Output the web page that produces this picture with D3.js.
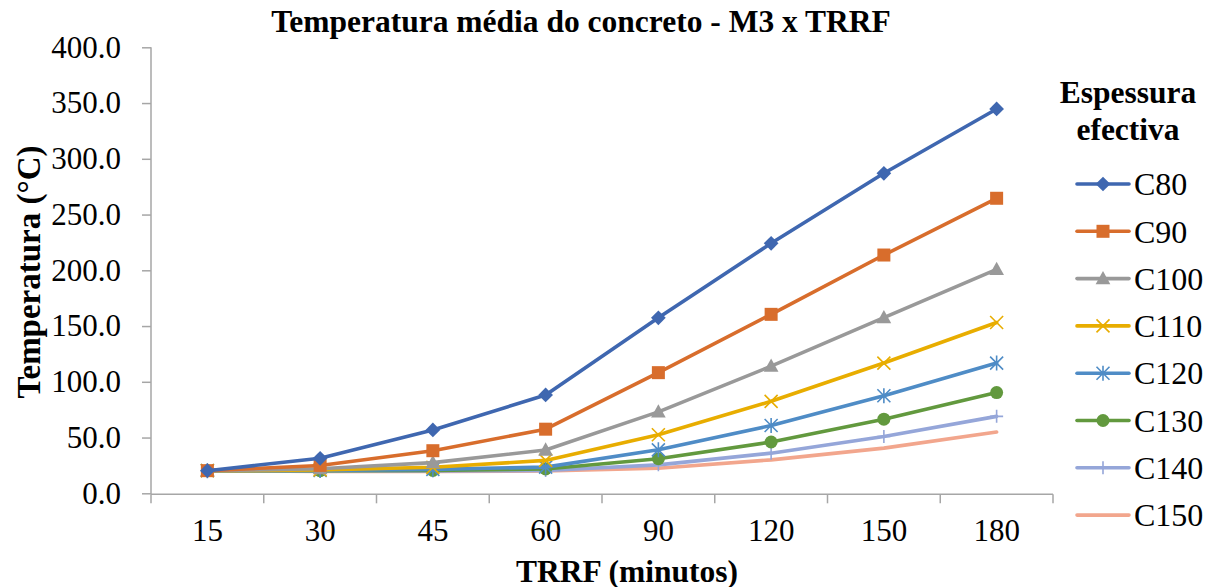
<!DOCTYPE html>
<html>
<head>
<meta charset="utf-8">
<script src="https://cdn.jsdelivr.net/npm/d3@7"></script>
<style>
  html, body { margin: 0; padding: 0; background: #fff; }
  svg, svg text { font-family: "Liberation Serif", "Times New Roman", serif !important; }
  svg { display: block; }
</style>
</head>
<body>
<svg id="chart" width="1214" height="587"></svg>
<script>
// Mean concrete temperature for each effective thickness over fire time
const categories = ["15", "30", "45", "60", "90", "120", "150", "180"];
const seriesNames = ["C80", "C90", "C100", "C110", "C120", "C130", "C140", "C150"];
const c80  = [20.3, 31.4, 56.8, 88.2, 157.4, 224.2, 287.0, 344.7];
const c90  = [20.3, 25.0, 38.2, 57.5, 108.2, 160.5, 213.7, 264.6];
const c100 = [20.3, 22.0, 27.5, 38.8, 73.0, 114.0, 157.5, 200.8];
const c110 = [20.3, 21.0, 23.3, 29.5, 52.5, 82.5, 116.8, 153.2];
const c120 = [20.3, 20.5, 21.5, 23.5, 39.0, 60.8, 87.5, 116.8];
const c130 = [20.3, 20.2, 20.5, 21.8, 31.0, 46.0, 66.5, 90.3];
const c140 = [20.3, 20.0, 20.0, 20.5, 25.5, 36.0, 51.0, 69.0];
const c150 = [20.3, 19.5, 19.5, 20.0, 22.5, 30.0, 40.5, 55.0];
const yTicks = [0, 50, 100, 150, 200, 250, 300, 350, 400];

const seriesValues = [c80, c90, c100, c110, c120, c130, c140, c150];
const colors = ["#3f67b0", "#d86d2c", "#999999", "#e8ad00", "#4f8cc6", "#62993e", "#95a6d9", "#f2a68d"];
const markers = ["diamond", "square", "triangle", "x", "asterisk", "circle", "plus", "none"];

const svg = d3.select("#chart");
const plotLeft = 151, plotRight = 1053, plotTop = 47.3, plotBottom = 493.3;
const fsTick = 31, fsBold = 31.5;

const x = d3.scaleBand().domain(categories).range([plotLeft, plotRight]);
const y = d3.scaleLinear().domain([0, 400]).range([plotBottom, plotTop]);

// Title
svg.append("text")
  .attr("x", 581).attr("y", 32)
  .attr("text-anchor", "middle")
  .attr("font-weight", "bold").attr("font-size", fsBold)
  .text("Temperatura média do concreto - M3 x TRRF");

// Y axis
const yAxis = d3.axisLeft(y).tickValues(yTicks).tickSize(9).tickFormat(d3.format(".1f"));
const gy = svg.append("g").attr("transform", `translate(${plotLeft},0)`).call(yAxis);
gy.select(".domain").attr("stroke", "#a6a6a6").attr("stroke-width", 1.5).attr("d", `M0,${plotTop}V${plotBottom + 0.7}`);
gy.selectAll(".tick line").attr("stroke", "#a6a6a6").attr("stroke-width", 1.5);
gy.selectAll(".tick text").attr("font-size", fsTick).attr("fill", "#000").attr("x", -30);

// X axis
const xAxis = d3.axisBottom(x).tickSize(0);
const gx = svg.append("g").attr("transform", `translate(0,${plotBottom + 1})`).call(xAxis);
gx.select(".domain").attr("stroke", "#a6a6a6").attr("stroke-width", 1.5).attr("d", `M${plotLeft},0H${plotRight}`);
gx.selectAll(".tick text").attr("font-size", fsTick).attr("fill", "#000").attr("y", 47).attr("dy", 0);
// category boundary tick marks
const bounds = categories.map(c => x(c)).concat([x(categories[categories.length - 1]) + x.bandwidth()]);
gx.selectAll("line.bound").data(bounds).enter().append("line")
  .attr("class", "bound")
  .attr("x1", d => d).attr("x2", d => d).attr("y1", 0).attr("y2", 9)
  .attr("stroke", "#a6a6a6").attr("stroke-width", 1.5);

// Axis titles
svg.append("text")
  .attr("x", 627).attr("y", 581.5)
  .attr("text-anchor", "middle")
  .attr("font-weight", "bold").attr("font-size", fsBold)
  .text("TRRF (minutos)");
svg.append("text")
  .attr("transform", "translate(40,272) rotate(-90)")
  .attr("text-anchor", "middle")
  .attr("font-weight", "bold").attr("font-size", 33)
  .text("Temperatura (°C)");

// Marker drawing
function drawMarker(g, type, color, s) {
  const r = s / 2;
  if (type === "diamond") {
    g.append("path").attr("d", `M0,${-r * 1.05}L${r * 1.05},0L0,${r * 1.05}L${-r * 1.05},0Z`).attr("fill", color);
  } else if (type === "square") {
    g.append("rect").attr("x", -r).attr("y", -r).attr("width", s).attr("height", s).attr("fill", color);
  } else if (type === "triangle") {
    g.append("path").attr("d", `M0,${-r * 1.1}L${r * 1.05},${r * 0.8}L${-r * 1.05},${r * 0.8}Z`).attr("fill", color);
  } else if (type === "x") {
    g.append("path").attr("d", `M${-r},${-r}L${r},${r}M${-r},${r}L${r},${-r}`)
      .attr("stroke", color).attr("stroke-width", 1.6).attr("fill", "none");
  } else if (type === "asterisk") {
    g.append("path").attr("d", `M${-r},${-r}L${r},${r}M${-r},${r}L${r},${-r}M0,${-r * 1.15}V${r * 1.15}`)
      .attr("stroke", color).attr("stroke-width", 1.6).attr("fill", "none");
  } else if (type === "circle") {
    g.append("circle").attr("r", r).attr("fill", color);
  } else if (type === "plus") {
    g.append("path").attr("d", `M${-r},0H${r}M0,${-r}V${r}`)
      .attr("stroke", color).attr("stroke-width", 1.6).attr("fill", "none");
  }
}
const markerSize = [14, 13, 14, 13, 13, 13, 13, 0];

// Lines and markers (draw last series first so C80 sits on top)
const line = d3.line()
  .x((d, i) => x(categories[i]) + x.bandwidth() / 2)
  .y(d => y(d));

const plot = svg.append("g");
for (let k = seriesValues.length - 1; k >= 0; k--) {
  const vals = seriesValues[k];
  plot.append("path").datum(vals)
    .attr("d", line)
    .attr("fill", "none")
    .attr("stroke", colors[k])
    .attr("stroke-width", 3.6)
    .attr("stroke-linejoin", "round")
    .attr("stroke-linecap", "round");
  vals.forEach((v, i) => {
    const g = plot.append("g")
      .attr("transform", `translate(${x(categories[i]) + x.bandwidth() / 2},${y(v)})`);
    drawMarker(g, markers[k], colors[k], markerSize[k]);
  });
}

// Legend
const legend = svg.append("g");
legend.append("text").attr("x", 1128).attr("y", 103)
  .attr("text-anchor", "middle").attr("font-weight", "bold").attr("font-size", 31.5)
  .text("Espessura");
legend.append("text").attr("x", 1128).attr("y", 140)
  .attr("text-anchor", "middle").attr("font-weight", "bold").attr("font-size", 31.5)
  .text("efectiva");
seriesNames.forEach((name, k) => {
  const cy = 184 + k * 47.3;
  const g = legend.append("g").attr("transform", `translate(0,${cy})`);
  g.append("line").attr("x1", 1077).attr("x2", 1129).attr("y1", 0).attr("y2", 0)
    .attr("stroke", colors[k]).attr("stroke-width", 3.6).attr("stroke-linecap", "round");
  const m = g.append("g").attr("transform", "translate(1103,0)");
  drawMarker(m, markers[k], colors[k], markerSize[k]);
  g.append("text").attr("x", 1134).attr("y", 0).attr("dy", "0.35em")
    .attr("font-size", 32).text(name);
});
</script>
</body>
</html>
